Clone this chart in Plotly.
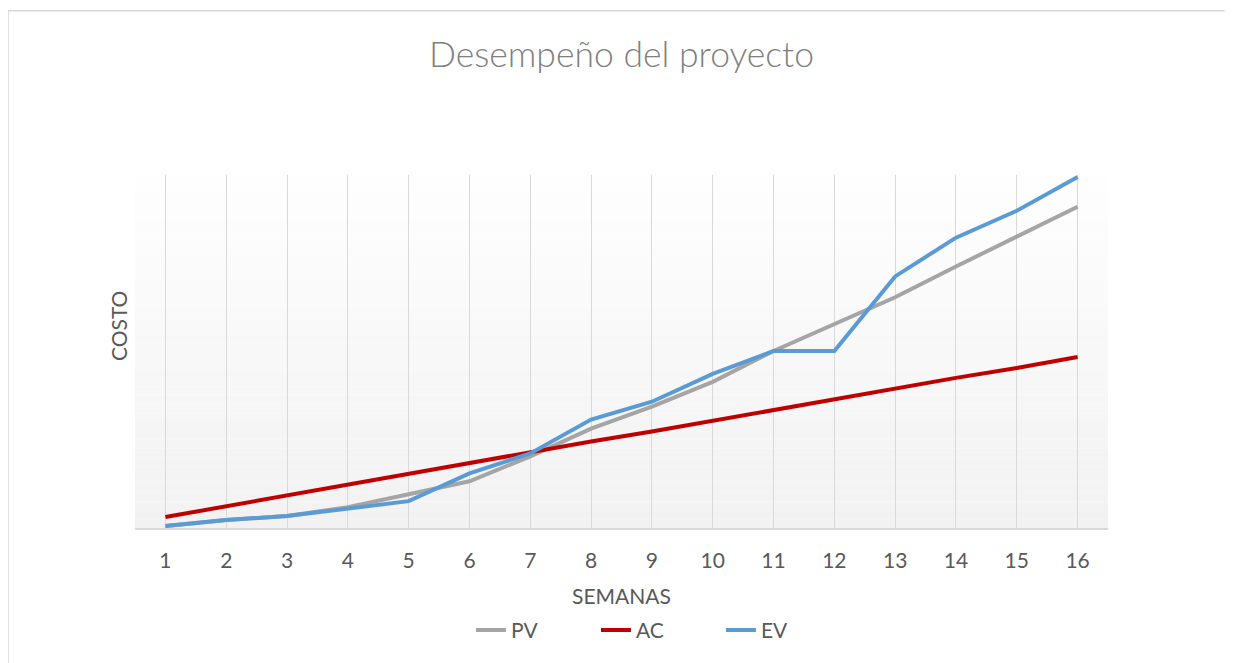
import plotly.graph_objects as go

# weekly values (no y labels, arbitrary cost units)
semanas = [str(i) for i in range(1, 17)]
pv = [2, 8, 12, 21, 34, 47, 72, 100, 122, 147, 178, 205, 232, 263, 293, 323]
ac = [11, 22, 33, 44, 55, 66, 77, 87, 97, 108, 118, 129, 140, 151, 161, 172]
ev = [2, 8, 12, 19, 27, 55, 75, 109, 127, 155, 178, 178, 253, 292, 319, 353]

series = [("PV", pv, "#a5a5a5"), ("AC", ac, "#c00000"), ("EV", ev, "#5b9bd5")]

FONT = "Lato, Open Sans, sans-serif"
TEXT_GREY = "#595959"

# the page puts the figure 8px in from the top-left corner
W, H = 1230, 655

fig = go.Figure()
for name, values, color in series:
    fig.add_trace(
        go.Scatter(
            x=semanas,
            y=values,
            mode="lines",
            name=name,
            line=dict(color=color, width=4),
        )
    )

# plot area gradient (white at top -> light grey at bottom), built from thin bands
shapes = []
bands = 40
for i in range(bands):
    t = i / (bands - 1)
    level = round(242 + (254 - 242) * t)
    shapes.append(
        dict(
            type="rect",
            xref="paper",
            yref="paper",
            x0=0,
            x1=1,
            y0=i / bands,
            y1=(i + 1) / bands,
            fillcolor=f"rgb({level},{level},{level})",
            line=dict(width=0),
            layer="below",
        )
    )

# outer chart border: only its top and left edges fall inside the page
border = dict(color="#d9d9d9", width=1.5)
shapes.append(dict(type="line", xref="paper", yref="paper",
                   x0=-0.1305, x1=1.12, y0=1.465, y1=1.465, line=border, layer="below"))
shapes.append(dict(type="line", xref="paper", yref="paper",
                   x0=-0.1305, x1=-0.1305, y0=-0.5, y1=1.465, line=border, layer="below"))

fig.update_layout(
    width=W,
    height=H,
    margin=dict(l=127, r=130, t=167, b=133),
    paper_bgcolor="white",
    plot_bgcolor="rgba(0,0,0,0)",
    font=dict(family=FONT, color=TEXT_GREY, size=21),
    title=dict(
        text="Desempeño del proyecto",
        font=dict(family=FONT, size=35.5, color="#7f7f7f", weight=300),
        x=0.5,
        xref="paper",
        xanchor="center",
        y=1 - 47 / H,
        yref="container",
        yanchor="middle",
    ),
    shapes=shapes,
    showlegend=True,
    legend=dict(
        orientation="h",
        x=0.538,
        xanchor="center",
        y=-0.29,
        yanchor="middle",
        font=dict(size=21, color=TEXT_GREY),
        entrywidth=80,
        bgcolor="rgba(0,0,0,0)",
    ),
    annotations=[
        dict(
            text="COSTO",
            xref="paper",
            yref="paper",
            x=-0.0175,
            y=0.572,
            textangle=-90,
            showarrow=False,
            xanchor="center",
            yanchor="middle",
            font=dict(size=21, color=TEXT_GREY),
        ),
        dict(
            text="SEMANAS",
            xref="paper",
            yref="paper",
            x=0.5,
            y=-0.1915,
            showarrow=False,
            xanchor="center",
            yanchor="middle",
            font=dict(size=21, color=TEXT_GREY),
        ),
    ],
)

fig.update_xaxes(
    type="category",
    range=[-0.5, 15.5],
    showgrid=True,
    gridcolor="#d9d9d9",
    gridwidth=1,
    showline=True,
    linecolor="#d9d9d9",
    linewidth=1.5,
    ticks="outside",
    ticklen=13,
    tickcolor="rgba(0,0,0,0)",
    tickfont=dict(size=21, color=TEXT_GREY),
    zeroline=False,
)
fig.update_yaxes(
    range=[0, 355],
    showgrid=False,
    showticklabels=False,
    zeroline=False,
    showline=False,
)

fig.write_html("out.html")
